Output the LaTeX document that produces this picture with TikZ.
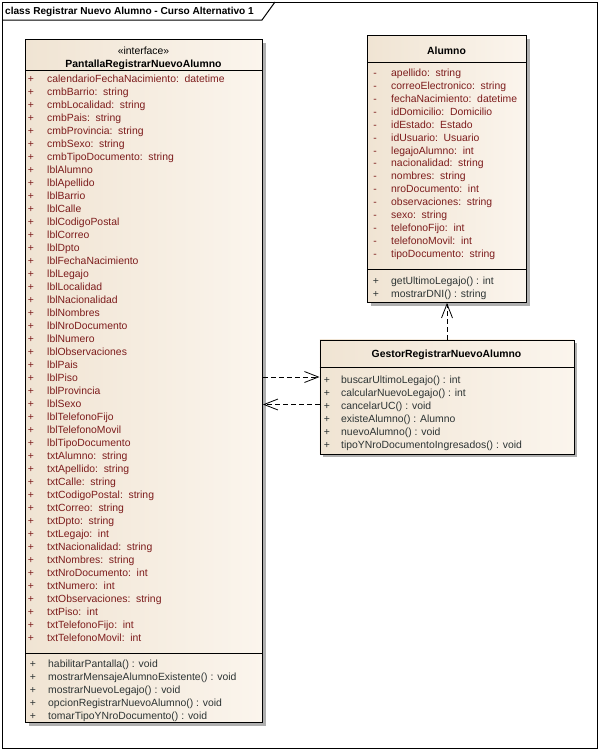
\documentclass[tikz,border=0pt]{standalone}
\usepackage{fontspec}
\setmainfont{Liberation Sans}
\usetikzlibrary{arrows.meta,shadows}
\definecolor{attrc}{RGB}{125,28,28}
\definecolor{methc}{RGB}{45,52,52}
\definecolor{fillL}{RGB}{240,228,211}
\definecolor{fillR}{RGB}{251,245,237}
\definecolor{shadc}{RGB}{175,175,175}
\newcommand\cln{:\kern2.8pt\ }
\tikzset{
  classbox/.style={draw=black, line width=0.9pt, left color=fillL, right color=fillR,
    anchor=north west, inner sep=0pt,
    drop shadow={shadow xshift=3.5pt, shadow yshift=-3.5pt, fill=shadc, opacity=1}},
  txt/.style={font=\fontsize{10.4}{12}\selectfont, inner sep=0pt, anchor=base west},
  attr/.style={txt, text=attrc},
  meth/.style={txt, text=methc},
  vis/.style={font=\fontsize{10.4}{12}\selectfont, inner sep=0pt, anchor=base},
  hdr/.style={font=\fontsize{10.4}{12}\selectfont\bfseries, inner sep=0pt, anchor=base},
  sep/.style={line width=0.9pt},
  dep/.style={line width=0.8pt, dash pattern=on 5pt off 3pt,
    -{Straight Barb[length=14pt,width=11pt,line width=0.8pt]}}
}
\begin{document}
\begin{tikzpicture}[x=1pt,y=-1pt]
\useasboundingbox (0,0) rectangle (599,750);
\fill[white] (0,0) rectangle (599,750);
% frame
\draw[line width=1pt] (2,2) rectangle (597,748);
\draw[line width=1pt] (2,20) -- (262,20) -- (275,2);
\node[font=\fontsize{10.1}{12}\selectfont\bfseries, inner sep=0pt, anchor=base west] (title) at (5,14.8) {class Registrar Nuevo Alumno - Curso Alternativo 1};

% ---------- Pantalla ----------
\node[classbox, minimum width=237pt, minimum height=683pt] (pantalla) at (25,39) {};
\node[vis] (pst) at (143.5,54.8) {«interface»};
\node[hdr] (pname) at (143.5,67.8) {PantallaRegistrarNuevoAlumno};
\draw[sep] (pantalla.west |- 0,70.5) -- (pantalla.east |- 0,70.5);
\foreach \t [count=\i from 0] in {calendarioFechaNacimiento\cln datetime, cmbBarrio\cln string, cmbLocalidad\cln string, cmbPais\cln string, cmbProvincia\cln string, cmbSexo\cln string, cmbTipoDocumento\cln string, lblAlumno, lblApellido, lblBarrio, lblCalle, lblCodigoPostal, lblCorreo, lblDpto, lblFechaNacimiento, lblLegajo, lblLocalidad, lblNacionalidad, lblNombres, lblNroDocumento, lblNumero, lblObservaciones, lblPais, lblPiso, lblProvincia, lblSexo, lblTelefonoFijo, lblTelefonoMovil, lblTipoDocumento, txtAlumno\cln string, txtApellido\cln string, txtCalle\cln string, txtCodigoPostal\cln string, txtCorreo\cln string, txtDpto\cln string, txtLegajo\cln int, txtNacionalidad\cln string, txtNombres\cln string, txtNroDocumento\cln int, txtNumero\cln int, txtObservaciones\cln string, txtPiso\cln int, txtTelefonoFijo\cln int, txtTelefonoMovil\cln int}{
  \node[vis, text=attrc] (pav\i) at (31,82.3+13*\i) {+};
  \node[attr] (pa\i) at (47,82.3+13*\i) {\t};
}
\draw[sep] (pantalla.west |- 0,653) -- (pantalla.east |- 0,653);
\foreach \t [count=\i from 0] in {habilitarPantalla() : void, mostrarMensajeAlumnoExistente() : void, mostrarNuevoLegajo() : void, opcionRegistrarNuevoAlumno() : void, tomarTipoYNroDocumento() : void}{
  \node[vis, text=methc] (pmv\i) at (33,667.3+13*\i) {+};
  \node[meth] (pm\i) at (48,667.3+13*\i) {\t};
}

% ---------- Alumno ----------
\node[classbox, minimum width=159pt, minimum height=267pt] (alumno) at (367,35) {};
\node[hdr] (aname) at (446.5,54.3) {Alumno};
\draw[sep] (alumno.west |- 0,62.5) -- (alumno.east |- 0,62.5);
\foreach \t [count=\i from 0] in {apellido\cln string, correoElectronico\cln string, fechaNacimiento\cln datetime, idDomicilio\cln Domicilio, idEstado\cln Estado, idUsuario\cln Usuario, legajoAlumno\cln int, nacionalidad\cln string, nombres\cln string, nroDocumento\cln int, observaciones\cln string, sexo\cln string, telefonoFijo\cln int, telefonoMovil\cln int, tipoDocumento\cln string}{
  \node[vis, text=attrc] (aav\i) at (375,76.3+12.95*\i) {-};
  \node[attr] (aa\i) at (391,76.3+12.95*\i) {\t};
}
\draw[sep] (alumno.west |- 0,269.5) -- (alumno.east |- 0,269.5);
\foreach \t [count=\i from 0] in {getUltimoLegajo() : int, mostrarDNI() : string}{
  \node[vis, text=methc] (amv\i) at (376,284.3+13*\i) {+};
  \node[meth] (am\i) at (391,284.3+13*\i) {\t};
}

% ---------- Gestor ----------
\node[classbox, minimum width=254pt, minimum height=114pt] (gestor) at (319.5,339.5) {};
\node[hdr] (gname) at (446.5,357.8) {GestorRegistrarNuevoAlumno};
\draw[sep] (gestor.west |- 0,367) -- (gestor.east |- 0,367);
\foreach \t [count=\i from 0] in {buscarUltimoLegajo() : int, calcularNuevoLegajo() : int, cancelarUC() : void, existeAlumno() : Alumno, nuevoAlumno() : void, tipoYNroDocumentoIngresados() : void}{
  \node[vis, text=methc] (gmv\i) at (327,383.8+13*\i) {+};
  \node[meth] (gm\i) at (341,383.8+13*\i) {\t};
}

% ---------- connectors ----------
\coordinate (gtop) at (gestor.north -| 447,0);
\draw[dep] (gtop) -- (gtop |- alumno.south);
\coordinate (g1) at (gestor.west |- 0,377);
\coordinate (g2) at (gestor.west |- 0,404.5);
\draw[dep] (pantalla.east |- g1) -- (g1);
\draw[dep] (g2) -- (pantalla.east |- g2);
\end{tikzpicture}
\end{document}
